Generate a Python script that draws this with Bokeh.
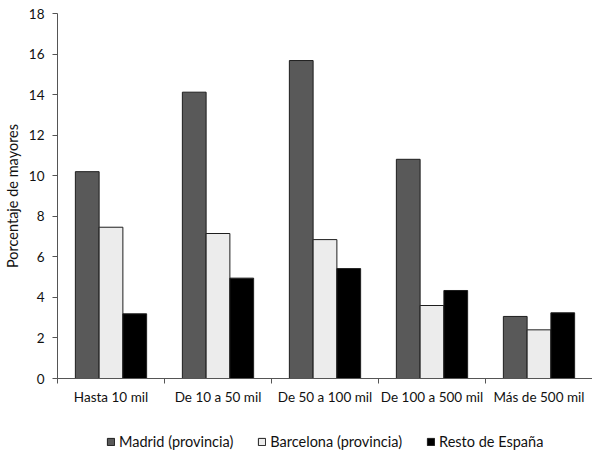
from bokeh.plotting import figure
from bokeh.models import ColumnDataSource, Range1d, FixedTicker, Legend, LegendItem
from bokeh.layouts import column
from bokeh.transform import dodge
from bokeh.embed import file_html
from bokeh.resources import INLINE

categories = ["Hasta 10 mil", "De 10 a 50 mil", "De 50 a 100 mil", "De 100 a 500 mil", "Más de 500 mil"]
madrid = [10.2, 14.12, 15.68, 10.81, 3.06]
barcelona = [7.46, 7.15, 6.85, 3.6, 2.4]
resto = [3.19, 4.95, 5.42, 4.34, 3.24]
series_names = ["Madrid (provincia)", "Barcelona (provincia)", "Resto de España"]
y_ticks = [0, 2, 4, 6, 8, 10, 12, 14, 16, 18]

FONT = "Lato"
FS = "13.5px"
TXT = "#111111"
x = [i + 0.5 for i in range(len(categories))]
src = ColumnDataSource(dict(x=x, madrid=madrid, barcelona=barcelona, resto=resto))

p = figure(width=592, height=410, output_backend="svg", toolbar_location=None,
           x_range=Range1d(0, len(categories)), y_range=Range1d(0, 18),
           min_border_top=13, min_border_right=0, min_border_left=10, min_border_bottom=32)
p.outline_line_color = None
p.grid.visible = False

bw = 0.222
colors = ["#595959", "#ececec", "#000000"]
for off, col, c in zip([-bw, 0, bw], ["madrid", "barcelona", "resto"], colors):
    p.vbar(x=dodge("x", off), top=col, bottom=0, width=bw, source=src,
           fill_color=c, line_color="#1e1e1e", line_width=1)

# x axis
p.xaxis.ticker = FixedTicker(ticks=x, minor_ticks=list(range(len(categories) + 1)))
p.xaxis.major_label_overrides = {v: c for v, c in zip(x, categories)}
p.xaxis.major_tick_out = 0
p.xaxis.major_tick_in = 0
p.xaxis.minor_tick_out = 5
p.xaxis.minor_tick_in = 0
p.xaxis.major_label_standoff = 5
p.xaxis.major_label_text_font = FONT
p.xaxis.major_label_text_font_size = FS
p.xaxis.major_label_text_color = TXT
p.xaxis.axis_line_color = "#555555"
p.xaxis.minor_tick_line_color = "#555555"

# y axis
p.yaxis.ticker = FixedTicker(ticks=y_ticks)
p.yaxis.minor_tick_line_color = None
p.yaxis.major_tick_out = 5
p.yaxis.major_tick_in = 0
p.yaxis.major_label_standoff = 8
p.yaxis.major_label_text_font = FONT
p.yaxis.major_label_text_font_size = FS
p.yaxis.major_label_text_color = TXT
p.yaxis.axis_label = "Porcentaje de mayores"
p.yaxis.axis_label_text_font = FONT
p.yaxis.axis_label_text_font_size = "14.5px"
p.yaxis.axis_label_text_font_style = "normal"
p.yaxis.axis_label_text_color = TXT
p.yaxis.axis_label_standoff = 5
p.yaxis.axis_line_color = "#555555"
p.yaxis.major_tick_line_color = "#555555"

# legend in its own strip below the chart (keys sit outside the strip's visible range)
lg = figure(width=592, height=40, output_backend="svg", toolbar_location=None,
            x_range=Range1d(0, 1), y_range=Range1d(0, 1),
            x_axis_location=None, y_axis_location=None,
            min_border_top=0, min_border_right=0, min_border_left=0, min_border_bottom=0)
lg.outline_line_color = None
lg.grid.visible = False
key_src = ColumnDataSource(dict(x=[-5], top=[0]))
keys = [lg.vbar(x="x", top="top", width=0.1, source=key_src, fill_color=c,
                line_color="#1e1e1e", line_width=1) for c in colors]
legend = Legend(items=[LegendItem(label=n, renderers=[r]) for n, r in zip(series_names, keys)],
                orientation="horizontal", location=(49, 0),
                label_text_font=FONT, label_text_font_size="14.5px", label_text_color=TXT,
                glyph_width=9, glyph_height=9, spacing=24, label_standoff=4,
                border_line_color=None, background_fill_alpha=0, margin=0, padding=0)
lg.add_layout(legend, "center")

open("out.html", "w").write(file_html(column(p, lg, spacing=0), INLINE))
